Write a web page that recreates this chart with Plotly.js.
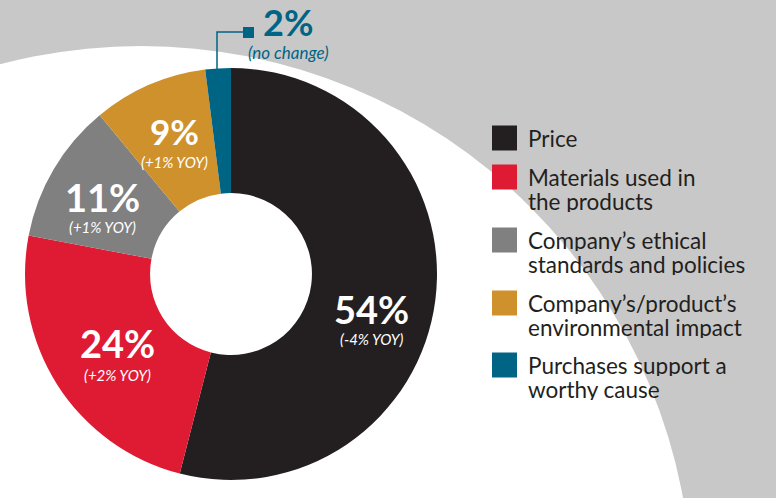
<!DOCTYPE html>
<html>
<head>
<meta charset="utf-8">
<script src="https://cdn.plot.ly/plotly-3.0.1.min.js"></script>
<style>html,body{margin:0;padding:0;background:#c8c8c8;}#chart{width:776px;height:498px;}</style>
</head>
<body>
<div id="chart"></div>
<script>
// ---- data ----
var labels = ["Price", "Materials used in\nthe products", "Company\u2019s ethical\nstandards and policies", "Company\u2019s/product\u2019s\nenvironmental impact", "Purchases support a\nworthy cause"];
var values = [54, 24, 11, 9, 2];
var yoy = ["(-4% YOY)", "(+2% YOY)", "(+1% YOY)", "(+1% YOY)", "(no change)"];
var colors = ["#231f20", "#df1a33", "#808080", "#cf912c", "#006485"];

// ---- layout helpers (pixel positions of the labels) ----
var W = 776, H = 498;
function px(x){ return x / W; }
function py(y){ return 1 - y / H; }
var labelPos = [
  {x: 371, y: 309, sy: 339, size: 38, color: "#ffffff"},
  {x: 117, y: 343, sy: 375, size: 38, color: "#ffffff"},
  {x: 102, y: 197, sy: 227, size: 38, color: "#ffffff"},
  {x: 174, y: 131, sy: 162, size: 35, color: "#ffffff"},
  {x: 288, y: 22,  sy: 53,  size: 36, color: "#006485"}
];
var legendTop = [138, 177, 240, 303, 365];

var annotations = [];
var shapes = [];

// big white background circle
shapes.push({type: "circle", xref: "paper", yref: "paper", layer: "below",
  x0: px(141 - 551), x1: px(141 + 551), y0: py(597 + 551), y1: py(597 - 551),
  fillcolor: "#ffffff", line: {width: 0}});

values.forEach(function(v, i){
  var p = labelPos[i];
  annotations.push({xref: "paper", yref: "paper", x: px(p.x), y: py(p.y), xanchor: "center", yanchor: "middle",
    text: "<b>" + v + "%</b>", showarrow: false,
    font: {family: "Lato, 'Open Sans', sans-serif", size: p.size, color: p.color}});
  annotations.push({xref: "paper", yref: "paper", x: px(p.x), y: py(p.sy), xanchor: "center", yanchor: "middle",
    text: "<i>" + yoy[i] + "</i>", showarrow: false,
    font: {family: "Lato, 'Open Sans', sans-serif", size: (i === 4 ? 17 : 15), color: p.color}});
});

// callout for the small slice
shapes.push({type: "path", xref: "paper", yref: "paper",
  path: "M" + px(217) + "," + py(71) + " L" + px(217) + "," + py(32) + " L" + px(246) + "," + py(32),
  line: {color: colors[4], width: 1.5}});
shapes.push({type: "rect", xref: "paper", yref: "paper",
  x0: px(243), x1: px(254), y0: py(38), y1: py(27), fillcolor: colors[4], line: {width: 0}});

// custom legend
labels.forEach(function(lab, i){
  var cy = legendTop[i];
  shapes.push({type: "rect", xref: "paper", yref: "paper",
    x0: px(492), x1: px(517), y0: py(cy + 12.5), y1: py(cy - 12.5),
    fillcolor: colors[i], line: {width: 0}});
  lab.split("\n").forEach(function(line, j){
    annotations.push({xref: "paper", yref: "paper", x: px(526), y: py(cy + j * 23.5), xanchor: "left", yanchor: "middle",
      text: line, showarrow: false, height: 22, valign: "middle",
      font: {family: "Lato, 'Open Sans', sans-serif", size: 22.5, color: "#231f20"}});
  });
});

var trace = {
  type: "pie",
  labels: labels.map(function(l){ return l.replace("\n", " "); }),
  values: values,
  sort: false,
  direction: "clockwise",
  rotation: 0,
  hole: 0.393,
  textinfo: "none",
  hoverinfo: "label+percent",
  marker: {colors: colors, line: {width: 0}},
  domain: {x: [px(25), px(437)], y: [py(480), py(68)]}
};

var layout = {
  width: W, height: H,
  margin: {l: 0, r: 0, t: 0, b: 0},
  paper_bgcolor: "#c8c8c8",
  showlegend: false,
  shapes: shapes,
  annotations: annotations
};

Plotly.newPlot("chart", [trace], layout, {displayModeBar: false, staticPlot: true});
</script>
</body>
</html>
